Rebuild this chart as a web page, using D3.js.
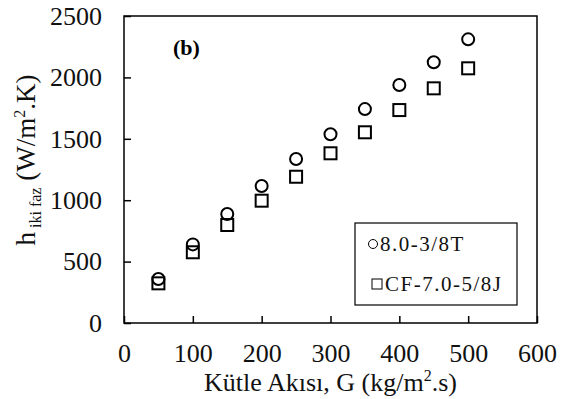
<!DOCTYPE html>
<html>
<head>
<meta charset="utf-8">
<script src="https://cdn.jsdelivr.net/npm/d3@7"></script>
<style>
  body { margin: 0; background: #fff; }
</style>
</head>
<body>
<script>
const width = 562
const height = 399
const margin = { top: 16, right: 25, bottom: 76, left: 124 }
const serif = "'Liberation Serif', 'Times New Roman', 'DejaVu Serif', serif"

// data
const massFlux = [50, 100, 150, 200, 250, 300, 350, 400, 450, 500]
const seriesT = [358, 640, 888, 1116, 1335, 1537, 1742, 1938, 2123, 2310]
const seriesJ = [323, 576, 798, 996, 1191, 1382, 1553, 1734, 1911, 2074]
const seriesNames = ['8.0-3/8T', 'CF-7.0-5/8J']
const xTicks = [0, 100, 200, 300, 400, 500, 600]
const yTicks = [0, 500, 1000, 1500, 2000, 2500]

const svg = d3.select('body')
	.append('svg')
	.attr('width', width)
	.attr('height', height)
	.style('font-family', serif)

const x = d3.scaleLinear()
	.domain([0, 600])
	.range([margin.left, width - margin.right])

const y = d3.scaleLinear()
	.domain([0, 2500])
	.range([height - margin.bottom, margin.top])

const xAxis = d3.axisBottom(x)
	.tickValues(xTicks)
	.tickFormat(d3.format('d'))
	.tickSizeInner(-7)
	.tickSizeOuter(0)
	.tickPadding(21)

const yAxis = d3.axisLeft(y)
	.tickValues(yTicks)
	.tickFormat(d3.format('d'))
	.tickSizeInner(-7)
	.tickSizeOuter(0)
	.tickPadding(22)

const gx = svg.append('g')
	.attr('transform', `translate(0,${y(0)})`)
	.call(xAxis)

const gy = svg.append('g')
	.attr('transform', `translate(${x(0)},0)`)
	.call(yAxis)

for (const g of [gx, gy]) {
	g.attr('font-family', null).attr('font-size', null)
	g.select('.domain').remove()
	g.selectAll('line').attr('stroke', '#000').attr('stroke-width', 1.5)
	g.selectAll('text')
		.style('font-family', serif)
		.style('font-size', '26px')
		.attr('fill', '#111')
}

// frame around the plot
svg.append('rect')
	.attr('x', x(0))
	.attr('y', y(2500))
	.attr('width', x(600) - x(0))
	.attr('height', y(0) - y(2500))
	.attr('fill', 'none')
	.attr('stroke', '#000')
	.attr('stroke-width', 1.5)

// axis titles
svg.append('text')
	.attr('x', (x(0) + x(600)) / 2)
	.attr('y', 391)
	.attr('text-anchor', 'middle')
	.attr('fill', '#111')
	.style('font-family', serif)
	.style('font-size', '26px')
	.text('Kütle Akısı, G (kg/m')
	.call(t => t.append('tspan').attr('dy', -10).style('font-size', '16px').text('2'))
	.call(t => t.append('tspan').attr('dy', 10).text('.s)'))

const yTitle = svg.append('text')
	.attr('transform', 'translate(35,160) rotate(-90)')
	.attr('text-anchor', 'middle')
	.attr('fill', '#111')
	.style('font-family', serif)
	.style('font-size', '27px')
yTitle.append('tspan').text('h')
yTitle.append('tspan').attr('dy', 6).style('font-size', '16px').text(' iki faz')
yTitle.append('tspan').attr('dy', -6).text(' (W/m')
yTitle.append('tspan').attr('dy', -10).style('font-size', '16px').text('2')
yTitle.append('tspan').attr('dy', 10).text('.K)')

svg.append('text')
	.attr('x', 173)
	.attr('y', 55)
	.style('font-family', serif)
	.style('font-size', '22px')
	.style('font-weight', 'bold')
	.text('(b)')

// markers
svg.append('g')
	.selectAll('circle')
	.data(massFlux)
	.join('circle')
	.attr('cx', d => x(d))
	.attr('cy', (d, i) => y(seriesT[i]))
	.attr('r', 6)
	.attr('fill', 'none')
	.attr('stroke', '#000')
	.attr('stroke-width', 2)

const side = 12
svg.append('g')
	.selectAll('rect')
	.data(massFlux)
	.join('rect')
	.attr('x', d => x(d) - side / 2)
	.attr('y', (d, i) => y(seriesJ[i]) - side / 2)
	.attr('width', side)
	.attr('height', side)
	.attr('fill', 'none')
	.attr('stroke', '#000')
	.attr('stroke-width', 2)

// legend
const legend = svg.append('g')
legend.append('rect')
	.attr('x', 355)
	.attr('y', 223)
	.attr('width', 162)
	.attr('height', 82)
	.attr('fill', '#fff')
	.attr('stroke', '#000')
	.attr('stroke-width', 1.2)

legend.append('circle')
	.attr('cx', 373)
	.attr('cy', 244)
	.attr('r', 4.5)
	.attr('fill', 'none')
	.attr('stroke', '#000')
	.attr('stroke-width', 1)

legend.append('rect')
	.attr('x', 372)
	.attr('y', 279)
	.attr('width', 10)
	.attr('height', 10)
	.attr('fill', 'none')
	.attr('stroke', '#000')
	.attr('stroke-width', 1)

legend.selectAll('.label')
	.data(seriesNames)
	.join('text')
	.attr('class', 'label')
	.attr('x', (d, i) => i === 0 ? 380 : 385)
	.attr('y', (d, i) => 251 + i * 40)
	.attr('fill', '#111')
	.style('font-family', serif)
	.style('font-size', '21px')
	.style('letter-spacing', '1.5px')
	.text(d => d)
</script>
</body>
</html>
